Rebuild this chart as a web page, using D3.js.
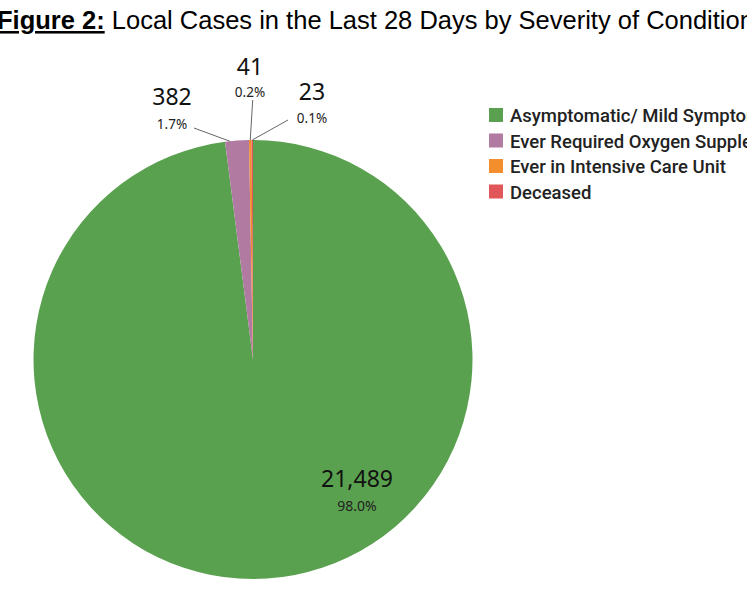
<!DOCTYPE html>
<html>
<head>
<meta charset="utf-8">
<script src="https://cdn.jsdelivr.net/npm/d3@7"></script>
<style>
  body { margin: 0; background: #fff; overflow: hidden; }
</style>
</head>
<body>
<div id="chart"></div>
<script>
// data
var categories = ["Asymptomatic/ Mild Symptoms", "Ever Required Oxygen Supplementation", "Ever in Intensive Care Unit", "Deceased"];
var counts = [21489, 382, 41, 23];
var percents = ["98.0%", "1.7%", "0.2%", "0.1%"];
var colors = ["#59a14f", "#b07aa1", "#f28e2b", "#e15759"];

var width = 747, height = 598;
var cx = 253, cy = 359.5, radius = 219.5;

// where the small-slice labels sit (number baseline, percent baseline, leader start)
var labelPos = [
  null,
  { x: 172, y: 105, py: 129, lx: 194, ly: 128, t: 0.2 },
  { x: 250, y: 75, py: 97, lx: 252.7, ly: 100, t: 0.5 },
  { x: 312, y: 100, py: 123, lx: 288, ly: 120, t: 0.5 }
];

var svg = d3.select("#chart")
    .append("svg")
    .attr("width", width)
    .attr("height", height);

// title
var title = svg.append("text")
    .attr("x", -3)
    .attr("y", 29)
    .style("font-family", "Liberation Sans, Arial, sans-serif")
    .style("font-size", "25.5px")
    .style("fill", "#000");
title.append("tspan")
    .style("font-weight", "bold")
    .style("text-decoration", "underline")
    .text("Figure 2:");
title.append("tspan")
    .text(" Local Cases in the Last 28 Days by Severity of Condition");

var pie = d3.pie()
    .sort(null)
    .value(d => d.value)
    .startAngle(0)
    .endAngle(2 * Math.PI);

var data = categories.map(function(c, i) {
  return { name: c, value: counts[i], pct: percents[i], color: colors[i], i: i };
});

var arcs = pie(data);

var arc = d3.arc()
    .innerRadius(0)
    .outerRadius(radius);

var g = svg.append("g")
    .attr("transform", "translate(" + cx + "," + cy + ")");

g.selectAll("path")
    .data(arcs)
    .enter()
    .append("path")
    .attr("d", arc)
    .style("fill", d => d.data.color);

var numFont = "'Noto Sans', 'Open Sans', sans-serif";

// big slice label
svg.append("text")
    .attr("x", 357)
    .attr("y", 487)
    .attr("text-anchor", "middle")
    .style("font-family", numFont)
    .style("font-size", "23px")
    .style("fill", "#111")
    .text(d3.format(",")(counts[0]));
svg.append("text")
    .attr("x", 357)
    .attr("y", 511)
    .attr("text-anchor", "middle")
    .style("font-family", numFont)
    .style("font-size", "14px")
    .style("fill", "#222")
    .text(percents[0]);

// small slices with leader lines
arcs.forEach(function(a, i) {
  var p = labelPos[i];
  if (!p) return;
  var ang = a.startAngle + p.t * (a.endAngle - a.startAngle);
  var ex = cx + radius * Math.sin(ang);
  var ey = cy - radius * Math.cos(ang);
  svg.append("line")
      .attr("x1", p.lx).attr("y1", p.ly)
      .attr("x2", ex).attr("y2", ey)
      .style("stroke", "#666")
      .style("stroke-width", 1);
  svg.append("text")
      .attr("x", p.x)
      .attr("y", p.y)
      .attr("text-anchor", "middle")
      .style("font-family", numFont)
      .style("font-size", "23px")
      .style("fill", "#111")
      .text(d3.format(",")(a.data.value));
  svg.append("text")
      .attr("x", p.x)
      .attr("y", p.py)
      .attr("text-anchor", "middle")
      .style("font-family", numFont)
      .style("font-size", "13.5px")
      .style("fill", "#222")
      .text(a.data.pct);
});

// legend
var legend = svg.append("g")
    .attr("transform", "translate(489,108)");

var row = legend.selectAll("g")
    .data(data)
    .enter()
    .append("g")
    .attr("transform", (d, i) => "translate(0," + (i * 25.5) + ")");

row.append("rect")
    .attr("width", 14)
    .attr("height", 14)
    .style("fill", d => d.color);

row.append("text")
    .attr("x", 21)
    .attr("y", 14)
    .style("font-family", "Roboto, sans-serif")
    .style("font-size", "18.5px")
    .style("font-weight", "500")
    .style("fill", "#222")
    .text(d => d.name);
</script>
</body>
</html>
